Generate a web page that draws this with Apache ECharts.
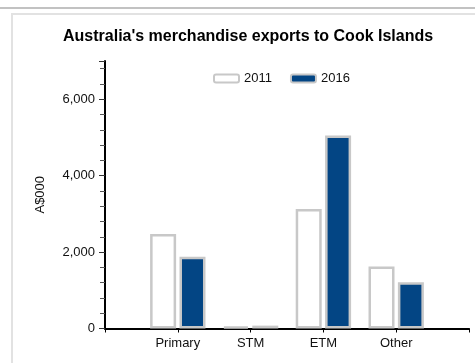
<!DOCTYPE html>
<html>
<head>
<meta charset="utf-8">
<script src="https://cdn.jsdelivr.net/npm/echarts@6/dist/echarts.min.js"></script>
<style>
  html, body { margin: 0; padding: 0; background: #fff; }
  #chart { width: 475px; height: 363px; }
</style>
</head>
<body>
<div id="chart"></div>
<script>
// Export categories (blank slots pad the axis at both ends)
const categories = ['', 'Primary', 'STM', 'ETM', 'Other', ''];
// A$000
const exports2011 = [null, 2470, 50, 3130, 1620, null];
const exports2016 = [null, 1880, 75, 5050, 1210, null];
const yTicks = [0, 2000, 4000, 6000];

const FONT = '"Liberation Sans", Arial, sans-serif';
const BORDER = '#c8c8c8';

const chart = echarts.init(document.getElementById('chart'), null, { renderer: 'canvas' });

chart.setOption({
  animation: false,
  backgroundColor: '#fff',
  title: {
    text: "Australia's merchandise exports to Cook Islands",
    left: 63,
    top: 29,
    padding: 0,
    textStyle: { fontFamily: FONT, fontWeight: 'bold', fontSize: 16, color: '#000' }
  },
  legend: {
    left: 213,
    top: 72,
    padding: 0,
    itemWidth: 25,
    itemHeight: 8,
    itemGap: 18,
    textStyle: { fontFamily: FONT, fontSize: 13, color: '#111' },
    data: ['2011', '2016']
  },
  graphic: [
    { type: 'line', shape: { x1: 0, y1: 8, x2: 475, y2: 8 }, style: { stroke: '#c2c2c2', lineWidth: 2 }, z: -1 },
    { type: 'polyline', shape: { points: [[12, 363], [12, 14], [475, 14]] }, style: { stroke: '#e2e2e2', lineWidth: 2, fill: null }, z: -1 }
  ],
  grid: { left: 105, right: 6, top: 61, bottom: 34.5 },
  xAxis: {
    type: 'category',
    data: categories,
    boundaryGap: false,
    axisLine: { lineStyle: { color: '#000', width: 2 } },
    axisTick: { show: true, length: 4, lineStyle: { color: '#000', width: 1 } },
    axisLabel: { fontFamily: FONT, fontSize: 13, color: '#111', margin: 8 }
  },
  yAxis: [
    {
      type: 'value',
      min: 0,
      max: 7000,
      interval: 2000,
      name: 'A$000',
      nameLocation: 'middle',
      nameRotate: 90,
      nameGap: 58,
      nameTextStyle: { fontFamily: FONT, fontSize: 13, color: '#111' },
      axisLine: { show: true, lineStyle: { color: '#000', width: 2 } },
      axisTick: { show: true, length: 6, lineStyle: { color: '#333' } },
      minorTick: { show: true, splitNumber: 5, length: 5, lineStyle: { color: '#555' } },
      splitLine: { show: false },
      axisLabel: {
        fontFamily: FONT, fontSize: 13, color: '#111', margin: 10,
        showMaxLabel: false,
        formatter: v => yTicks.includes(v) ? v.toLocaleString('en-US') : ''
      }
    }
  ],
  series: [
    {
      name: '2011',
      type: 'bar',
      data: exports2011,
      barWidth: 26,
      barGap: '13%',
      itemStyle: { color: '#fff', borderColor: BORDER, borderWidth: 2.5 }
    },
    {
      name: '2016',
      type: 'bar',
      data: exports2016,
      barWidth: 26,
      barGap: '13%',
      itemStyle: { color: '#034584', borderColor: BORDER, borderWidth: 2.5 }
    }
  ]
});
</script>
</body>
</html>
